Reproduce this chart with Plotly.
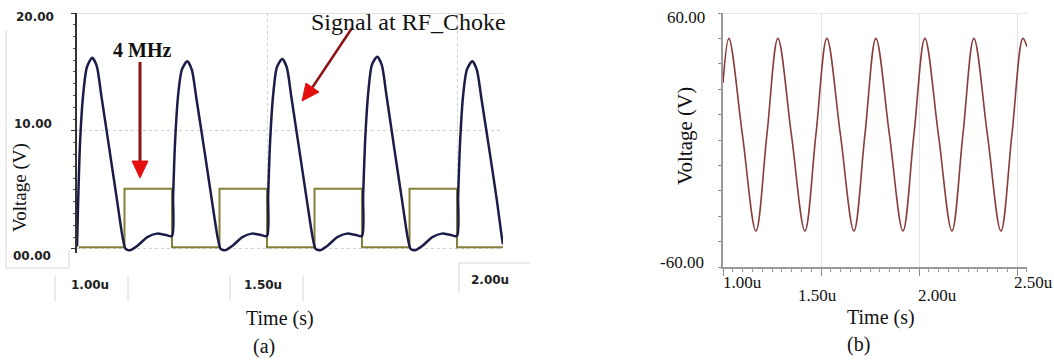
import plotly.graph_objects as go

# ---------------- data: panel (a) ----------------
a_time = [
    1.000, 1.003, 1.008, 1.016, 1.026, 1.040, 1.052, 1.064, 1.085, 1.105, 1.120, 1.128,
    1.140, 1.160, 1.185, 1.210, 1.232, 1.250,
    1.253, 1.258, 1.266, 1.276, 1.290, 1.302, 1.314, 1.335, 1.355, 1.370, 1.378,
    1.390, 1.410, 1.435, 1.460, 1.482, 1.500,
    1.503, 1.508, 1.516, 1.526, 1.540, 1.552, 1.564, 1.585, 1.605, 1.620, 1.628,
    1.640, 1.660, 1.685, 1.710, 1.732, 1.750,
    1.753, 1.758, 1.766, 1.776, 1.790, 1.802, 1.814, 1.835, 1.855, 1.870, 1.878,
    1.890, 1.910, 1.935, 1.960, 1.982, 2.000,
    2.003, 2.008, 2.016, 2.026, 2.040, 2.052, 2.064, 2.085, 2.105, 2.117, 2.121,
]
a_rf_choke = [
    0.2, 4.0, 9.0, 13.0, 15.4, 16.2, 15.5, 13.0, 8.5, 4.2, 1.0, 0.0,
    -0.1, 0.3, 1.0, 1.3, 1.2, 1.1,
    4.5, 9.0, 13.0, 15.2, 15.9, 15.2, 12.8, 8.4, 4.1, 1.0, 0.0,
    -0.1, 0.3, 1.0, 1.3, 1.2, 1.1,
    4.5, 9.0, 13.0, 15.4, 16.1, 15.4, 12.9, 8.4, 4.1, 1.0, 0.0,
    -0.1, 0.3, 1.0, 1.3, 1.2, 1.1,
    4.5, 9.0, 13.1, 15.6, 16.3, 15.6, 13.1, 8.5, 4.2, 1.0, 0.0,
    -0.1, 0.3, 1.0, 1.3, 1.2, 1.1,
    4.5, 9.0, 13.0, 15.2, 15.9, 15.2, 12.8, 8.4, 4.1, 1.2, 0.4,
]
a_clock_time = [1.005, 1.125, 1.250, 1.375, 1.500, 1.625, 1.750, 1.875, 2.000, 2.121]
a_clock = [0.15, 5.1, 0.15, 5.1, 0.15, 5.1, 0.15, 5.1, 0.15, 0.15]

a_ytick_vals = [0, 10, 20]
a_ytick_labels = ["00.00", "10.00", "20.00"]
a_xtick_labels = ["1.00u", "1.50u", "2.00u"]

# ---------------- data: panel (b) ----------------
b_time = [
    1.000, 1.030, 1.099, 1.168, 1.224, 1.280, 1.349, 1.418, 1.474, 1.530, 1.599,
    1.668, 1.724, 1.780, 1.849, 1.918, 1.974, 2.030, 2.099, 2.168, 2.224, 2.280,
    2.349, 2.418, 2.474, 2.530, 2.551,
]
b_voltage = [
    27, 48, 2.5, -43, 2.5, 48, 2.5, -43, 2.5, 48, 2.5,
    -43, 2.5, 48, 2.5, -43, 2.5, 48, 2.5, -43, 2.5, 48,
    2.5, -43, 2.5, 48, 44,
]
b_ytick_labels = ["-60.00", "60.00"]
b_xtick_labels = ["1.00u", "1.50u", "2.00u", "2.50u"]

# ---------------- figure ----------------
W, H = 1054, 360


def px(x):
    return x / W


def py(y):
    return 1 - y / H


SERIF = "Liberation Serif, Times New Roman, serif"
SANS = "DejaVu Sans, Verdana, sans-serif"

fig = go.Figure()
fig.add_trace(go.Scatter(x=a_clock_time, y=a_clock, mode="lines", line=dict(color="#857f3a", width=2, shape="hv"),
                         xaxis="x", yaxis="y", showlegend=False, hoverinfo="skip"))
fig.add_trace(go.Scatter(x=a_time, y=a_rf_choke, mode="lines", line=dict(color="#1b1d48", width=2.5, shape="spline", smoothing=0.7),
                         xaxis="x", yaxis="y", showlegend=False, hoverinfo="skip"))
fig.add_trace(go.Scatter(x=b_time, y=b_voltage, mode="lines", line=dict(color="#8a3b3b", width=1.6, shape="spline", smoothing=1.0),
                         xaxis="x2", yaxis="y2", showlegend=False, hoverinfo="skip"))

fig.update_layout(
    width=W, height=H, margin=dict(l=0, r=0, t=0, b=0),
    paper_bgcolor="white", plot_bgcolor="rgba(0,0,0,0)",
    xaxis=dict(domain=[px(77), px(503)], range=[1.0, 2.121], tickvals=[1.5, 2.0], showticklabels=False,
               showgrid=True, gridcolor="#cfcfcf", griddash="dot", gridwidth=1, zeroline=False, showline=False,
               ticks="", anchor="y", fixedrange=True),
    yaxis=dict(domain=[py(252.5), py(13)], range=[-0.3, 20], tickvals=a_ytick_vals, showticklabels=False,
               showgrid=True, gridcolor="#cfcfcf", griddash="dot", zeroline=False, showline=True,
               linecolor="#333333", linewidth=1.5, ticks="outside", ticklen=4, tickcolor="#333333",
               minor=dict(dtick=1, ticklen=2, tickcolor="#555555", ticks="outside"), anchor="x", fixedrange=True),
    xaxis2=dict(domain=[px(723), px(1027)], range=[1.0, 2.551], tickvals=[1.0, 1.5, 2.0, 2.5], showticklabels=False,
                showgrid=True, gridcolor="#e3e3e3", zeroline=False, showline=True, linecolor="#9a9a9a", linewidth=1.5,
                ticks="outside", ticklen=7, tickcolor="#8a8a8a",
                minor=dict(dtick=0.05, ticklen=3, tickcolor="#9a9a9a", ticks="outside", showgrid=False),
                anchor="y2", fixedrange=True),
    yaxis2=dict(domain=[py(267), py(13)], range=[-60, 60], tickvals=[-60, -48, -36, -24, -12, 0, 12, 24, 36, 48, 60],
                showticklabels=False, showgrid=False, zeroline=False, showline=True, linecolor="#9a9a9a", linewidth=1.5,
                ticks="outside", ticklen=3, tickcolor="#8a8a8a", anchor="x2", fixedrange=True),
)

shapes = []
# top borders
shapes.append(dict(type="line", xref="x", yref="y", x0=1.0, x1=2.121, y0=20, y1=20, line=dict(color="#d4d4d4", width=1.5), layer="below"))
shapes.append(dict(type="line", xref="x2", yref="y2", x0=1.0, x1=2.551, y0=60, y1=60, line=dict(color="#e0e0e0", width=1.5), layer="below"))


def pline(x0, y0, x1, y1, color="#d6d6d6", width=1):
    shapes.append(dict(type="line", xref="paper", yref="paper", x0=px(x0), y0=py(y0), x1=px(x1), y1=py(y1),
                       line=dict(color=color, width=width)))


# faint label-box frames in panel (a)
pline(6, 30, 6, 268)
pline(6, 268, 69, 268)
pline(69, 250, 69, 268)
for xx in (55, 128, 230, 303):
    pline(xx, 276, xx, 301)
pline(459, 263, 530, 263)
pline(459, 263, 459, 293)

# red arrows
pline(140, 62, 140, 163, color="#8e1414", width=3)
shapes.append(dict(type="path", xref="paper", yref="paper",
                   path=f"M {px(132)},{py(161)} L {px(148)},{py(161)} L {px(140)},{py(178)} Z",
                   fillcolor="#e41010", line=dict(color="#e41010", width=1)))
pline(352, 28, 312, 88, color="#8e1414", width=2.5)
shapes.append(dict(type="path", xref="paper", yref="paper",
                   path=f"M {px(319)},{py(92)} L {px(306)},{py(83)} L {px(302)},{py(101)} Z",
                   fillcolor="#e41010", line=dict(color="#e41010", width=1)))
fig.update_layout(shapes=shapes)

ann = []


def label(text, x, y, size, family=SERIF, color="#111111", angle=0, bold=False):
    t = f"<b>{text}</b>" if bold else text
    ann.append(dict(text=t, x=px(x), y=py(y), xref="paper", yref="paper", showarrow=False,
                    xanchor="center", yanchor="middle", textangle=angle,
                    font=dict(family=family, size=size, color=color)))


# panel (a) texts
for lab, yy, xx in zip(a_ytick_labels, (256, 124, 17), (32, 33, 35)):
    label(lab, xx, yy, 12, family=SANS, color="#222222", bold=True)
for lab, xx, yy in zip(a_xtick_labels, (90, 263, 490), (285, 285, 280)):
    label(lab, xx, yy, 12, family=SANS, color="#222222", bold=True)
label("Time (s)", 280, 318, 20)
label("(a)", 264, 346, 20)
label("Voltage (V)", 20, 188, 19, angle=-90)
label("4 MHz", 142, 50, 20, bold=True)
label("Signal at RF_Choke", 408, 22, 24)

# panel (b) texts
label(b_ytick_labels[1], 686, 17, 17)
label(b_ytick_labels[0], 682, 262, 17)
for lab, xx, yy in zip(b_xtick_labels, (742, 817, 937, 1033), (282, 295, 295, 282)):
    label(lab, xx, yy, 17)
label("Time (s)", 881, 317, 20)
label("(b)", 858, 344, 20)
label("Voltage (V)", 685, 136, 21, angle=-90)

fig.update_layout(annotations=ann)
fig.write_html("out.html")
